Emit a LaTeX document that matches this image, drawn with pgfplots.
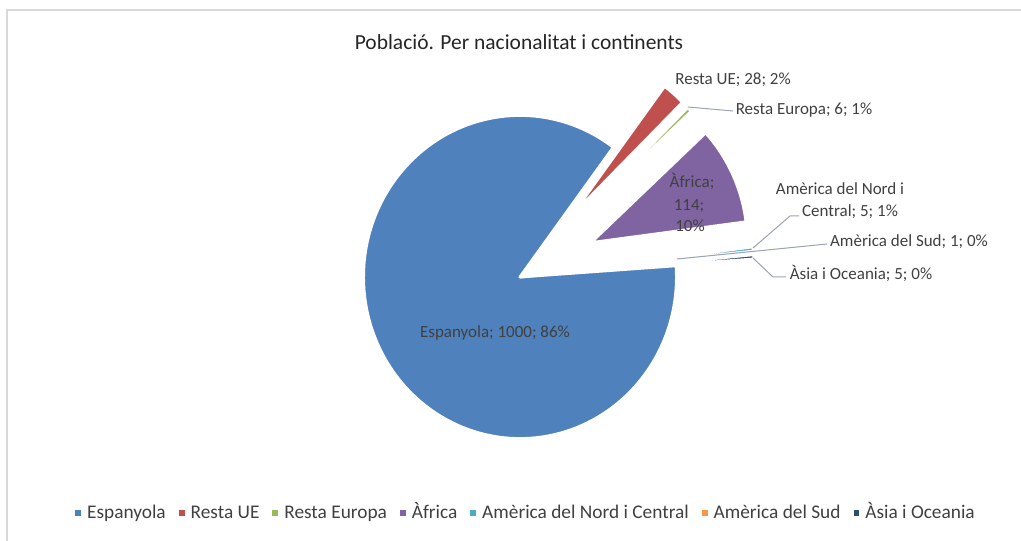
\documentclass[border=0pt]{standalone}
\usepackage{pgfplots}
\pgfplotsset{compat=1.18}
\usepackage{pgfplotstable}
\usepackage{fontspec}
\setmainfont{Carlito}
\definecolor{pc0}{HTML}{4F81BD}
\definecolor{pc1}{HTML}{C0504D}
\definecolor{pc2}{HTML}{9BBB59}
\definecolor{pc3}{HTML}{8064A2}
\definecolor{pc4}{HTML}{4BACC6}
\definecolor{pc5}{HTML}{F79646}
\definecolor{pc6}{HTML}{2C4D75}
\definecolor{txt}{HTML}{404040}
\definecolor{lead}{HTML}{9AA4B2}
\definecolor{framegray}{HTML}{D9D9D9}

% value of each slice and its explosion (fraction of radius)
\pgfplotstableread{
value explode
1000 0
28 0.5
6 0.5
114 0.5
5 0.5
1 0
5 0.5
}\piedata

\newcommand\lbl{\fontsize{12.75}{15}\selectfont}

\begin{document}
\begin{tikzpicture}[x=0.75pt,y=-0.75pt]
% ---- cumulative angles from the table (Excel: clockwise) ----
\def\pietotal{0}
\pgfplotsforeachungrouped \i in {0,...,6}{%
  \pgfplotstablegetelem{\i}{value}\of\piedata
  \pgfmathsetmacro\pietotal{\pietotal+\pgfplotsretval}%
}
\def\piecum{0}
\def\piestart{4}
\pgfplotsforeachungrouped \i in {0,...,6}{%
  \pgfplotstablegetelem{\i}{value}\of\piedata \let\pv\pgfplotsretval
  \pgfplotstablegetelem{\i}{explode}\of\piedata \let\pe\pgfplotsretval
  \pgfmathsetmacro\pa{\piestart-360*(\piecum/\pietotal)}%
  \pgfmathsetmacro\piecum{\piecum+\pv}%
  \pgfmathsetmacro\pb{\piestart-360*(\piecum/\pietotal)}%
  \pgfmathsetmacro\pdx{\pe*cos((\pa+\pb)/2)}%
  \pgfmathsetmacro\pdy{\pe*sin((\pa+\pb)/2)}%
  \expandafter\xdef\csname pieA\i\endcsname{\pa}%
  \expandafter\xdef\csname pieB\i\endcsname{\pb}%
  \expandafter\xdef\csname pieDX\i\endcsname{\pdx}%
  \expandafter\xdef\csname pieDY\i\endcsname{\pdy}%
}
% frame
\draw[framegray, line width=1.5pt] (7,548) -- (7,10) -- (1030,10);

\begin{axis}[
  at={(0pt,-405.75pt)}, anchor=south west,
  x=117.375pt, y=121.2pt,
  xmin=-3.32268, xmax=3.20128,
  ymin=-1.63366, ymax=1.71411,
  enlargelimits=false,
  hide axis, clip=false,
  legend columns=7,
  legend image code/.code={\fill[#1,draw=none] (0pt,-2.2pt) rectangle (4.4pt,2.2pt);},
  legend style={at={(0.5142,0.0518)}, anchor=center, draw=none, fill=none,
    font=\fontsize{14.5}{16}\selectfont, text=txt,
    nodes={inner sep=0pt},
    /tikz/every odd column/.append style={column sep=4.5pt},
    /tikz/every even column/.append style={column sep=9.75pt, text height=10pt, text depth=3pt}},
]
\pgfplotsinvokeforeach{0,...,6}{%
  \edef\doslice{\noexpand\addplot[draw=white, line width=2.2pt, line join=round, fill=pc#1, forget plot,
     domain=\csname pieB#1\endcsname:\csname pieA#1\endcsname, samples=150]
     ({\csname pieDX#1\endcsname+cos(x)},{\csname pieDY#1\endcsname+sin(x)})
     -- (axis cs:\csname pieDX#1\endcsname,\csname pieDY#1\endcsname) -- cycle;}%
  \doslice
}
\addlegendimage{fill=pc0}\addlegendentry{Espanyola}
\addlegendimage{fill=pc1}\addlegendentry{Resta UE}
\addlegendimage{fill=pc2}\addlegendentry{Resta Europa}
\addlegendimage{fill=pc3}\addlegendentry{Àfrica}
\addlegendimage{fill=pc4}\addlegendentry{Amèrica del Nord i Central}
\addlegendimage{fill=pc5}\addlegendentry{Amèrica del Sud}
\addlegendimage{fill=pc6}\addlegendentry{Àsia i Oceania}
\end{axis}

% title
\node[anchor=base, text=black!85, font=\fontsize{16.1}{19}\selectfont] at (519,50) {Població. Per nacionalitat i continents};

% leader lines
\draw[lead, line width=0.75pt] (733,111) -- (688,107);
\draw[lead, line width=0.75pt] (799,216) -- (790,216) -- (753,248);
\draw[lead, line width=0.75pt] (827,244) -- (677,259);
\draw[lead, line width=0.75pt] (786,277) -- (773,277) -- (753,258);

% data labels
\begin{scope}[every node/.style={anchor=base, text=txt, font=\lbl, inner sep=0pt}]
\node at (495,338) {Espanyola; 1000; 86\%};
\node at (733,85) {Resta UE; 28; 2\%};
\node at (804,115) {Resta Europa; 6; 1\%};
\node at (692,188) {Àfrica;};
\node at (689,211) {114;};
\node at (690,232) {10\%};
\node at (840,195) {Amèrica del Nord i};
\node at (850,217) {Central; 5; 1\%};
\node at (909,247) {Amèrica del Sud; 1; 0\%};
\node at (861,280) {Àsia i Oceania; 5; 0\%};
\end{scope}

\pgfresetboundingbox
\path[use as bounding box] (0,0) rectangle (1021,541);
\end{tikzpicture}
\end{document}
